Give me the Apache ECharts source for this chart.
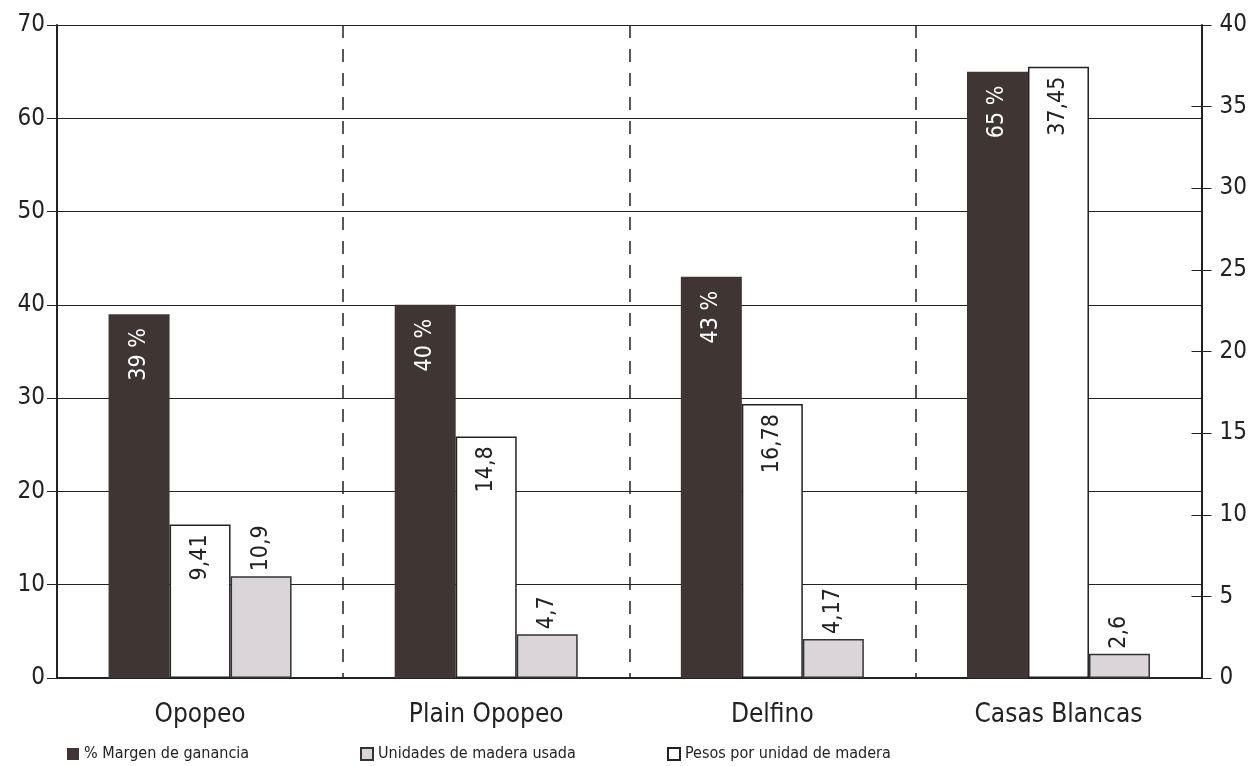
<!DOCTYPE html>
<html>
<head>
<meta charset="utf-8">
<script src="https://cdn.jsdelivr.net/npm/echarts@6/dist/echarts.min.js"></script>
<style>
html,body{margin:0;padding:0;background:#fff;}
#chart{width:1250px;height:766px;}
</style>
</head>
<body>
<div id="chart"></div>
<script>
const categories = ['Opopeo', 'Plain Opopeo', 'Delfino', 'Casas Blancas'];
const margenValues = [39, 40, 43, 65];
const pesosValues = [9.41, 14.8, 16.78, 37.45];
const unidadesValues = [10.9, 4.7, 4.17, 2.6];
const leftTicks = [0, 10, 20, 30, 40, 50, 60, 70];
const rightTicks = [0, 5, 10, 15, 20, 25, 30, 35, 40];

const FONT = '"Liberation Sans Narrow", "DejaVu Sans Condensed", "Roboto", sans-serif';
const fmt = v => String(v).replace('.', ',');
const legendText = { fontFamily: FONT, fontSize: 16, color: '#222' };

const chart = echarts.init(document.getElementById('chart'));
chart.setOption({
  backgroundColor: '#ffffff',
  animation: false,
  textStyle: { fontFamily: FONT },
  grid: { left: 57, right: 47, top: 25, bottom: 88 },
  legend: [
    { data: ['% Margen de ganancia'], icon: 'rect', left: 67, top: 746, padding: 0, itemWidth: 12, itemHeight: 12, textStyle: legendText },
    { data: ['Unidades de madera usada'], icon: 'rect', left: 360, top: 746, padding: 0, itemWidth: 12, itemHeight: 12, textStyle: legendText },
    { data: ['Pesos por unidad de madera'], icon: 'rect', left: 667, top: 746, padding: 0, itemWidth: 12, itemHeight: 12, textStyle: legendText }
  ],
  xAxis: {
    type: 'category',
    data: categories,
    axisLine: { lineStyle: { color: '#222', width: 2 } },
    axisTick: { show: false },
    axisLabel: { fontFamily: FONT, fontSize: 26, color: '#222', margin: 24 },
    splitLine: { show: true, lineStyle: { color: '#222', width: 1.5, type: [13, 11] } }
  },
  yAxis: [
    {
      type: 'value', min: 0, max: 70, interval: 10, position: 'left',
      axisLine: { show: true, lineStyle: { color: '#222', width: 2 } },
      axisTick: { show: true, length: 10, lineStyle: { color: '#222' } },
      axisLabel: { fontFamily: FONT, fontSize: 24, color: '#222', margin: 12 },
      splitLine: { show: true, lineStyle: { color: '#222', width: 1.2 } }
    },
    {
      type: 'value', min: 0, max: 40, interval: 5, position: 'right',
      axisLine: { show: true, lineStyle: { color: '#222', width: 2 } },
      axisTick: { show: true, length: 10, lineStyle: { color: '#222' } },
      axisLabel: { fontFamily: FONT, fontSize: 24, color: '#222', margin: 18 },
      splitLine: { show: false }
    },
    {
      type: 'value', min: 0, max: 40, interval: 5, position: 'right',
      axisLine: { show: false },
      axisTick: { show: true, inside: true, length: 10, lineStyle: { color: '#222' } },
      axisLabel: { show: false },
      splitLine: { show: false }
    }
  ],
  series: [
    {
      name: '% Margen de ganancia', type: 'bar', yAxisIndex: 0,
      data: margenValues, barWidth: 61, barGap: '0%',
      itemStyle: { color: '#3f3634' },
      label: {
        show: true, position: 'insideTop', rotate: 90, align: 'right', verticalAlign: 'middle',
        distance: 14, color: '#fff', fontFamily: FONT, fontSize: 23,
        formatter: p => p.value + ' %'
      }
    },
    {
      name: 'Pesos por unidad de madera', type: 'bar', yAxisIndex: 1,
      data: pesosValues, barWidth: 61, barGap: '0%',
      itemStyle: { color: '#ffffff', borderColor: '#222', borderWidth: 1.5 },
      label: {
        show: true, position: 'insideTop', rotate: 90, align: 'right', verticalAlign: 'middle',
        distance: 10, color: '#222', fontFamily: FONT, fontSize: 23,
        formatter: p => fmt(p.value)
      }
    },
    {
      name: 'Unidades de madera usada', type: 'bar', yAxisIndex: 0,
      data: unidadesValues, barWidth: 61, barGap: '0%',
      itemStyle: { color: '#dbd4d8', borderColor: '#333', borderWidth: 1.5 },
      label: {
        show: true, position: 'top', rotate: 90, align: 'left', verticalAlign: 'middle',
        distance: 5, color: '#222', fontFamily: FONT, fontSize: 23,
        formatter: p => fmt(p.value)
      }
    }
  ]
});
</script>
</body>
</html>
